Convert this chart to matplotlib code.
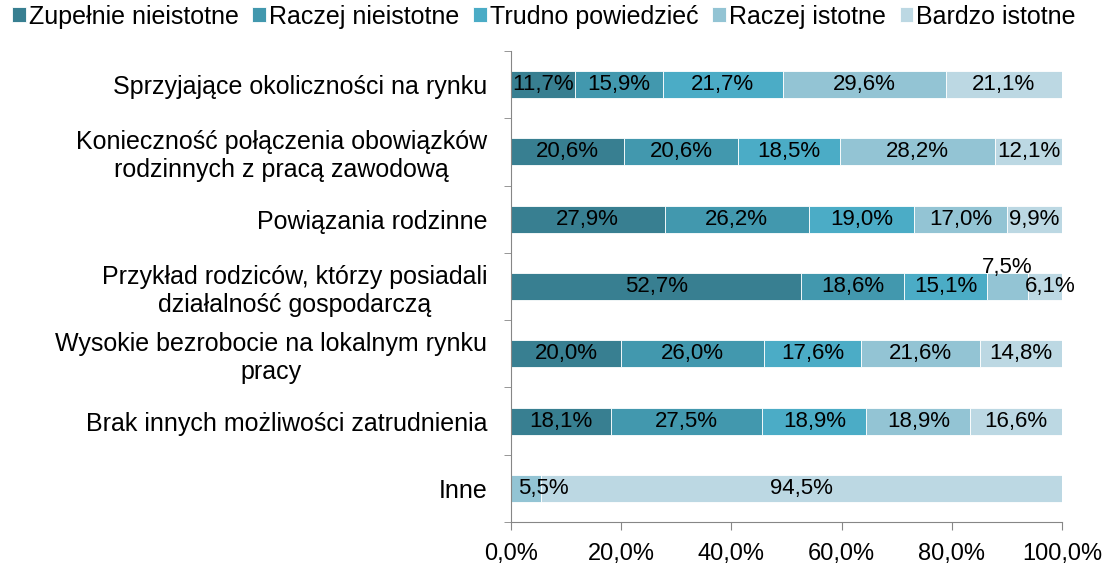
import matplotlib.pyplot as plt
import numpy as np

plt.rcParams["font.family"] = ["Liberation Sans", "DejaVu Sans"]

categories = [
    "Sprzyjające okoliczności na rynku",
    "Konieczność połączenia obowiązków\nrodzinnych z pracą zawodową",
    "Powiązania rodzinne",
    "Przykład rodziców, którzy posiadali\ndziałalność gospodarczą",
    "Wysokie bezrobocie na lokalnym rynku\npracy",
    "Brak innych możliwości zatrudnienia",
    "Inne",
]
series = ["Zupełnie nieistotne", "Raczej nieistotne", "Trudno powiedzieć",
          "Raczej istotne", "Bardzo istotne"]
zupelnie = [11.7, 20.6, 27.9, 52.7, 20.0, 18.1, 0.0]
raczej_nie = [15.9, 20.6, 26.2, 18.6, 26.0, 27.5, 0.0]
trudno = [21.7, 18.5, 19.0, 15.1, 17.6, 18.9, 0.0]
raczej_ist = [29.6, 28.2, 17.0, 7.5, 21.6, 18.9, 5.5]
bardzo = [21.1, 12.1, 9.9, 6.1, 14.8, 16.6, 94.5]
colors = ["#387f91", "#4298ae", "#4bacc6", "#93c4d4", "#bcd8e3"]

values = [zupelnie, raczej_nie, trudno, raczej_ist, bardzo]

fig = plt.figure(figsize=(11.05, 5.64), dpi=100)
ax = fig.add_axes([0.4624, 0.0745, 0.961 - 0.4624, 0.9096 - 0.0745])

y = np.arange(len(categories))
left = np.zeros(len(categories))
for s, vals, c in zip(series, values, colors):
    vals = np.array(vals)
    ax.barh(y, vals / 100, left=left / 100, height=0.4, color=c, label=s,
            edgecolor="white", linewidth=0.6)
    for i, v in enumerate(vals):
        if v == 0:
            continue
        cx = (left[i] + v / 2) / 100
        cy = y[i]
        # Excel moved a few labels that didn't fit
        if i == 3 and s == "Raczej istotne":
            cy = y[i] - 0.28
        if i == 3 and s == "Bardzo istotne":
            cx += 0.01
        if i == 6 and s == "Raczej istotne":
            cx = 0.058
        ax.text(cx, cy, f"{v:.1f}%".replace(".", ","), ha="center",
                va="center", fontsize=16, color="black")
    left += vals

ax.set_ylim(len(categories) - 0.5, -0.5)
ax.set_xlim(0, 1)
ax.set_yticks(y)
ax.set_yticklabels(categories, fontsize=18, multialignment="center")
ax.set_yticks(np.arange(-0.5, len(categories)), minor=True)
ax.tick_params(axis="y", which="major", length=0, pad=17)
ax.tick_params(axis="y", which="minor", length=5, color="#868686")
ax.set_xticks(np.arange(0, 1.01, 0.2))
ax.set_xticklabels([f"{t:.1f}%".replace(".", ",") for t in np.arange(0, 101, 20)],
                   fontsize=17)
ax.tick_params(axis="x", length=6, color="#868686", pad=9)
for sp in ["top", "right"]:
    ax.spines[sp].set_visible(False)
ax.spines["left"].set_color("#868686")
ax.spines["bottom"].set_color("#868686")

fig.legend(loc="upper left", bbox_to_anchor=(0.004, 1.005), ncol=5, frameon=False,
           fontsize=18, handlelength=0.55, handleheight=0.55, handletextpad=0.12,
           columnspacing=0.55, borderaxespad=0.1, borderpad=0.2)

fig.savefig("out.png", dpi=100)
